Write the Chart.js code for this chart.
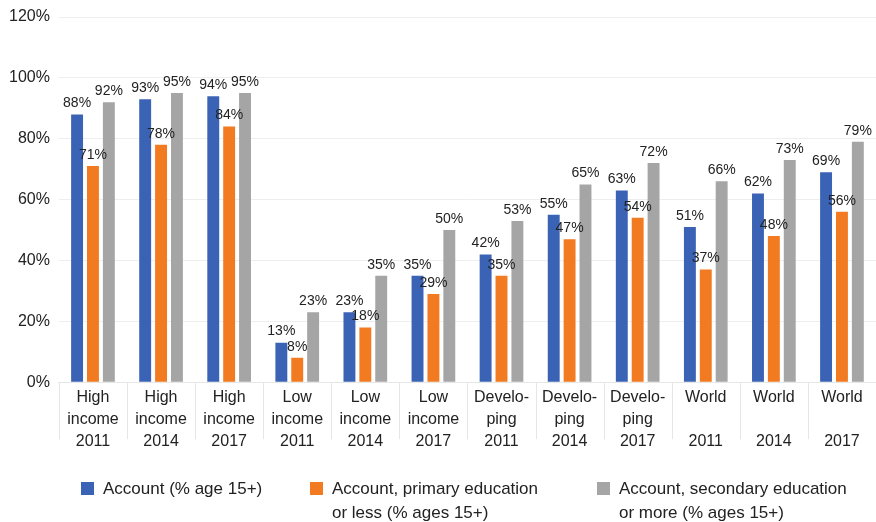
<!DOCTYPE html>
<html>
<head>
<meta charset="utf-8">
<script src="https://cdn.jsdelivr.net/npm/chart.js@4/dist/chart.umd.min.js"></script>
<style>
  html, body { margin: 0; padding: 0; background: #fff; }
  #wrap { position: relative; width: 876px; height: 522px; font-family: "Liberation Sans", Arial, sans-serif; }
  #chart { position: absolute; left: 0; top: 0; }
  .legend-item { position: absolute; top: 477px; display: flex; align-items: flex-start; color: #222; font-size: 17px; line-height: 24px; }
  .legend-box { width: 13px; height: 13px; margin-top: 5px; margin-right: 9px; flex: none; }
</style>
</head>
<body>
<div id="wrap">
  <canvas id="chart" width="876" height="522"></canvas>
</div>
<script>
// Category groups and survey years (one label per bar group)
const groups = ['High income', 'High income', 'High income', 'Low income', 'Low income', 'Low income',
                'Develo-ping', 'Develo-ping', 'Develo-ping', 'World', 'World', 'World'];
const years = ['2011', '2014', '2017', '2011', '2014', '2017', '2011', '2014', '2017', '2011', '2014', '2017'];

// Account ownership, % of adults
const accountAll = [88, 93, 94, 13, 23, 35, 42, 55, 63, 51, 62, 69];
const accountPrimary = [71, 78, 84, 8, 18, 29, 35, 47, 54, 37, 48, 56];
const accountSecondary = [92, 95, 95, 23, 35, 50, 53, 65, 72, 66, 73, 79];

// Series names (two-line legend entries)
const seriesNames = [
  ['Account (% age 15+)'],
  ['Account, primary education', 'or less (% ages 15+)'],
  ['Account, secondary education', 'or more (% ages 15+)']
];
const seriesColors = ['#3a63b5', '#f27a21', '#a5a5a5'];

const yTicks = [0, 20, 40, 60, 80, 100, 120];

// Three-line category labels: name split on its hyphen/space, then the year
function categoryLabel(name, year) {
  let parts;
  if (name.includes('-')) {
    const i = name.indexOf('-');
    parts = [name.slice(0, i + 1), name.slice(i + 1)];
  } else if (name.includes(' ')) {
    parts = name.split(' ');
  } else {
    parts = [name, ''];
  }
  return [...parts, year];
}
const labels = groups.map((g, i) => categoryLabel(g, years[i]));

const FONT = '"Liberation Sans", Arial, sans-serif';

// Value labels drawn above each bar
const valueLabels = {
  id: 'valueLabels',
  afterDatasetsDraw(chart) {
    const ctx = chart.ctx;
    ctx.save();
    ctx.font = '14px ' + FONT;
    ctx.fillStyle = '#222';
    ctx.textAlign = 'center';
    ctx.textBaseline = 'bottom';
    chart.data.datasets.forEach((ds, di) => {
      const meta = chart.getDatasetMeta(di);
      meta.data.forEach((bar, i) => {
        ctx.fillText(ds.data[i] + '%', bar.x, bar.y - 4);
      });
    });
    ctx.restore();
  }
};

// Thin separators between category labels, below the axis line
const categorySeparators = {
  id: 'categorySeparators',
  afterDraw(chart) {
    const x = chart.scales.x;
    const ctx = chart.ctx;
    const top = chart.chartArea.bottom;
    ctx.save();
    ctx.strokeStyle = '#e6e6e6';
    ctx.lineWidth = 1;
    ctx.beginPath();
    for (let i = 0; i <= chart.data.labels.length; i++) {
      const px = Math.round(x.getPixelForValue(i - 0.5)) + 0.5;
      ctx.moveTo(px, top);
      ctx.lineTo(px, top + 57);
    }
    ctx.stroke();
    ctx.restore();
  }
};

const chart = new Chart(document.getElementById('chart'), {
  type: 'bar',
  data: {
    labels: labels,
    datasets: [
      { label: seriesNames[0].join(' '), data: accountAll, backgroundColor: seriesColors[0] },
      { label: seriesNames[1].join(' '), data: accountPrimary, backgroundColor: seriesColors[1] },
      { label: seriesNames[2].join(' '), data: accountSecondary, backgroundColor: seriesColors[2] }
    ]
  },
  options: {
    responsive: false,
    animation: false,
    devicePixelRatio: 1,
    layout: { padding: { top: 0, right: 0, left: 0, bottom: 65 } },
    datasets: { bar: { categoryPercentage: 0.70, barPercentage: 0.75 } },
    plugins: {
      legend: { display: false },
      tooltip: { enabled: false }
    },
    scales: {
      x: {
        grid: { display: false, drawTicks: false, tickLength: 0 },
        border: { display: true, color: '#e6e6e6' },
        ticks: {
          color: '#222',
          font: { family: FONT, size: 16, lineHeight: 1.35 },
          padding: 5,
          maxRotation: 0,
          autoSkip: false
        }
      },
      y: {
        min: 0,
        max: 120,
        afterBuildTicks(scale) { scale.ticks = yTicks.map(v => ({ value: v })); },
        grid: { color: '#eeeeee', drawTicks: false },
        border: { display: false },
        ticks: {
          color: '#222',
          font: { family: FONT, size: 16, lineHeight: 1.0 },
          padding: 9,
          callback: v => v + '%'
        }
      }
    }
  },
  plugins: [valueLabels, categorySeparators]
});

// HTML legend built from the datasets
const legendX = [81, 310, 597];
const wrap = document.getElementById('wrap');
chart.data.datasets.forEach((ds, i) => {
  const item = document.createElement('div');
  item.className = 'legend-item';
  item.style.left = legendX[i] + 'px';
  const box = document.createElement('div');
  box.className = 'legend-box';
  box.style.background = ds.backgroundColor;
  const text = document.createElement('div');
  text.innerHTML = seriesNames[i].join('<br>');
  item.appendChild(box);
  item.appendChild(text);
  wrap.appendChild(item);
});
</script>
</body>
</html>
